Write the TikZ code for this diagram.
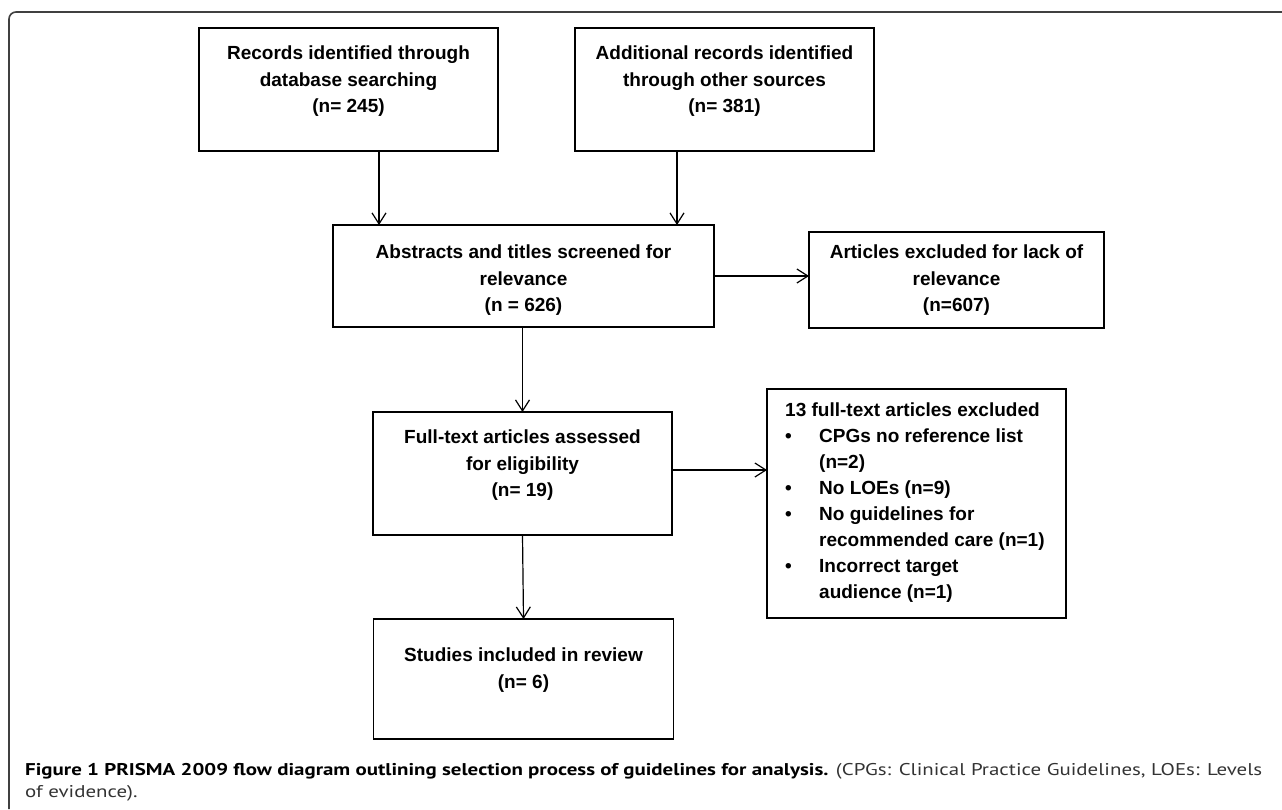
\documentclass[tikz,border=0pt]{standalone}
\usepackage{fontspec}
\setmainfont{Liberation Sans}
\newfontfamily\capfont{PT Sans}
\usetikzlibrary{arrows.meta}
\newsavebox\capone
\newsavebox\captwo
\begin{document}
\sbox\capone{\capfont\fontsize{17}{21}\selectfont\textbf{Figure 1 PRISMA 2009 flow diagram outlining selection process of guidelines for analysis.} \color{black!80}(CPGs: Clinical Practice Guidelines, LOEs: Levels}%
\sbox\captwo{\capfont\fontsize{17}{21}\selectfont\color{black!80}of evidence).}%
\pgfmathsetmacro{\capscale}{1237/\the\wd\capone}%
\begin{tikzpicture}[x=1pt,y=-1pt,
  box/.style={draw=black, line width=1.6pt, inner sep=0pt, outer sep=0pt},
  txt/.style={font=\fontsize{19}{26.3}\selectfont\bfseries, align=center, inner sep=0pt, anchor=north},
  ltxt/.style={font=\fontsize{19}{26}\selectfont\bfseries, align=left, inner sep=0pt, anchor=north west},
  conn/.style={line width=1.2pt, -{Straight Barb[length=11pt,width=14pt,line width=1.2pt]}},
  frame/.style={draw=black!75, line width=1.6pt, rounded corners=7pt},
  captxt/.style={inner sep=0pt, anchor=base west},
]
\useasboundingbox (0,0) rectangle (1282,809);

% outer frame
\draw[frame] (9,809) -- (9,12) -- (1282,12);

% boxes
\node[box, minimum width=299pt, minimum height=123pt] (b1) at (348.5,89.5) {};
\node[box, minimum width=299pt, minimum height=123pt] (b2) at (724.5,89.5) {};
\node[box, minimum width=381pt, minimum height=102pt] (b3) at (523.5,276) {};
\node[box, minimum width=295pt, minimum height=96pt] (e1) at (956.5,280) {};
\node[box, minimum width=299pt, minimum height=123pt] (b4) at (522.5,473.5) {};
\node[box, minimum width=299pt, minimum height=229pt] (e2) at (916.5,503.5) {};
\node[box, minimum width=300pt, minimum height=120pt] (b6) at (523.5,679) {};

% texts
\node[txt] (b1t) at (348.5,46) {Records identified through\\database searching\\(n= 245)};
\node[txt] (b2t) at (724.5,46) {Additional records identified\\through other sources\\(n= 381)};
\node[txt] (b3t) at (523.5,245) {Abstracts and titles screened for\\relevance\\(n = 626)};
\node[txt] (e1t) at (956.5,245) {Articles excluded for lack of\\relevance\\(n=607)};
\node[txt] (b4t) at (522.5,430) {Full-text articles assessed\\for eligibility\\(n= 19)};
\node[txt] (b6t) at (523.5,648) {Studies included in review\\(n= 6)};
\node[ltxt] (e2t) at (785,403) {13 full-text articles excluded\\
\makebox[34pt][l]{\textbullet}CPGs no reference list\\
\hspace*{34pt}(n=2)\\
\makebox[34pt][l]{\textbullet}No LOEs (n=9)\\
\makebox[34pt][l]{\textbullet}No guidelines for\\
\hspace*{34pt}recommended care (n=1)\\
\makebox[34pt][l]{\textbullet}Incorrect target\\
\hspace*{34pt}audience (n=1)};

% connectors
\draw[conn] ([xshift=30.5pt]b1.south) -- ([xshift=30.5pt]b1.south |- b3.north);
\draw[conn] ([xshift=-47.5pt]b2.south) -- ([xshift=-47.5pt]b2.south |- b3.north);
\draw[conn] (b3.east) -- (b3.east -| e1.west);
\draw[conn] (b3.south -| b4.north) -- (b4.north);
\draw[conn] (b4.east |- 0,470) -- (e2.west |- 0,470);
\draw[conn] (b4.south) -- (b6.north);

% caption
\node[captxt] (cap1) at (25,775) {\scalebox{\capscale}[1]{\usebox\capone}};
\node[captxt] (cap2) at (25,797) {\scalebox{\capscale}[1]{\usebox\captwo}};
\end{tikzpicture}
\end{document}
